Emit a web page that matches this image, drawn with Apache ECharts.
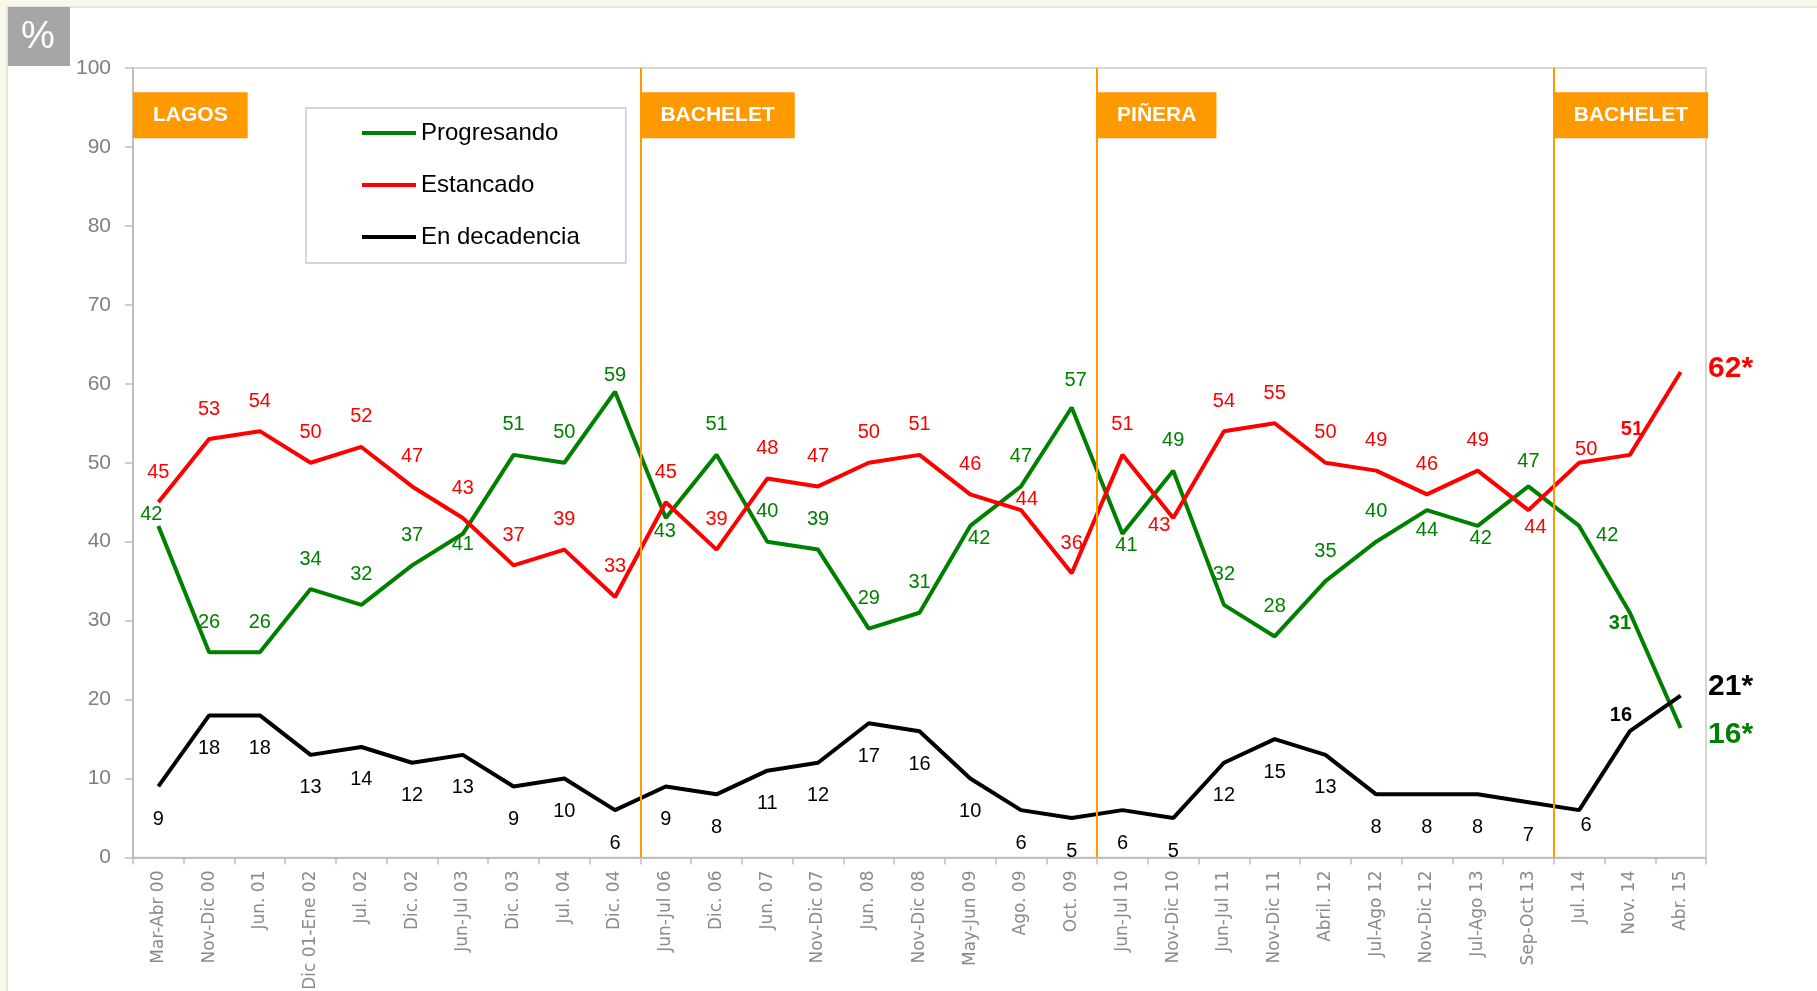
<!DOCTYPE html>
<html>
<head>
<meta charset="utf-8">
<script src="https://cdn.jsdelivr.net/npm/echarts@6/dist/echarts.min.js"></script>
<style>html,body{margin:0;padding:0;background:#faf7ea;}#chart{width:1817px;height:991px;}</style>
</head>
<body>
<div id="chart"></div>
<script>
const categories = ['Mar-Abr 00','Nov-Dic 00','Jun. 01','Dic 01-Ene 02','Jul. 02','Dic. 02','Jun-Jul 03','Dic. 03','Jul. 04','Dic. 04','Jun-Jul 06','Dic. 06','Jun. 07','Nov-Dic 07','Jun. 08','Nov-Dic 08','May-Jun 09','Ago. 09','Oct. 09','Jun-Jul 10','Nov-Dic 10','Jun-Jul 11','Nov-Dic 11','Abril. 12','Jul-Ago 12','Nov-Dic 12','Jul-Ago 13','Sep-Oct 13','Jul. 14','Nov. 14','Abr. 15'];
const progresando = [42,26,26,34,32,37,41,51,50,59,43,51,40,39,29,31,42,47,57,41,49,32,28,35,40,44,42,47,42,31,16.4];
const estancado   = [45,53,54,50,52,47,43,37,39,33,45,39,48,47,50,51,46,44,36,51,43,54,55,50,49,46,49,44,50,51,61.5];
const decadencia  = [9,18,18,13,14,12,13,9,10,6,9,8,11,12,17,16,10,6,5,6,5,12,15,13,8,8,8,7,6,16,20.5];
const seriesNames = ['Progresando','Estancado','En decadencia'];
const periods = ['LAGOS','BACHELET','PIÑERA','BACHELET'];
const periodStarts = [0,10,19,28];
const periodBreaks = [10,19,28];
const yTicks = {min:0, max:100, step:10};

const COLORS = {green:'#008000', red:'#ff0000', black:'#000000', orange:'#ff9900'};
const FONT = 'Liberation Sans, Arial, sans-serif';

// label placement (pixel offsets from the point), style only
const greenOff = {0:[-7,-11],6:[0,11],9:[0,-16],10:[-1,13],16:[9,13],18:[4,-27],19:[4,12],25:[0,20],26:[3,13],27:[0,-25],28:[28,10],29:[-10,11],30:[50,7]};
const redOff = {17:[6,-11],20:[-14,7],27:[7,17],28:[7,-13],29:[2,-25],30:[50,-3]};
const blackOff = {28:[7,15],29:[-9,-16],30:[50,-9]};

function build(values, color, offs, defOff) {
  const last = values.length - 1;
  return values.map((v, i) => {
    const off = offs[i] || defOff;
    const lbl = {show:true, position:'inside', offset:off, color:color, fontFamily:FONT, fontSize:20};
    if (i === 29) lbl.fontWeight = 'bold';
    if (i === last) {
      lbl.fontWeight = 'bold'; lbl.fontSize = 30;
      lbl.formatter = p => Math.round(p.value) + '*';
    }
    return {value: v, label: lbl};
  });
}

function lineSeries(name, values, color, offs, defOff) {
  return {
    name: name, type:'line', data: build(values, color, offs, defOff),
    symbol:'circle', symbolSize:0.1, showSymbol:true,
    itemStyle:{color:color}, lineStyle:{color:color, width:4},
    label:{show:true}, z:3, silent:true
  };
}

const chart = echarts.init(document.getElementById('chart'), null, {renderer:'canvas'});
const option = {
  animation:false,
  backgroundColor:'#faf7ea',
  graphic:[
    {type:'rect', z:-20, shape:{x:7,y:7,width:1830,height:1000}, style:{fill:'#ffffff', stroke:'#cfcfcf', lineWidth:1}},
    {type:'rect', z:-10, shape:{x:8,y:7,width:62,height:59}, style:{fill:'#a6a6a6'}},
    {type:'text', z:-5, x:38, y:38, style:{text:'%', fill:'#ffffff', font:'38px ' + FONT, align:'center', verticalAlign:'middle'}}
  ],
  legend:{
    data: seriesNames.map(n => ({name:n, icon:'rect'})), orient:'vertical', left:306, top:108,
    padding:[13,46,14,56], itemGap:28, itemWidth:54, itemHeight:4,
    borderColor:'#c8c8c8', borderWidth:1.5, backgroundColor:'#ffffff',
    textStyle:{fontSize:24, color:'#000', fontFamily:FONT}
  },
  grid:{left:133, right:111, top:68, bottom:133.5, show:true, borderColor:'#c9c9c9', borderWidth:1.5, backgroundColor:'transparent', outerBoundsMode:'none'},
  xAxis:[
    {type:'category', data:categories, boundaryGap:true,
     axisLine:{lineStyle:{color:'#bfbfbf', width:2}},
     axisTick:{show:true, interval:0, length:7, lineStyle:{color:'#bfbfbf', width:1.5}},
     axisLabel:{interval:0, rotate:90, margin:13, color:'#8a8a8a', fontSize:17, fontFamily:'DejaVu Sans, sans-serif'},
     splitLine:{show:false}},
    {type:'value', min:0, max:categories.length, show:false, position:'bottom'}
  ],
  yAxis:{type:'value', min:yTicks.min, max:yTicks.max, interval:yTicks.step,
    axisLine:{show:true, lineStyle:{color:'#bfbfbf', width:2}},
    axisTick:{show:true, length:8, lineStyle:{color:'#bfbfbf', width:1.5}},
    axisLabel:{color:'#7f7f7f', fontSize:21, fontFamily:FONT, margin:22},
    splitLine:{show:false}},
  series:[
    {name:'periodos', type:'line', xAxisIndex:1, data:[], silent:true, z:1,
     markLine:{silent:true, symbol:['none','none'], label:{show:false},
       lineStyle:{color:COLORS.orange, width:2, type:'solid'},
       data: periodBreaks.map(b => ({xAxis:b}))},
     markPoint:{silent:true, symbolSize:0,
       label:{show:true, position:'inside', align:'left', verticalAlign:'middle', formatter:'{b}',
         backgroundColor:COLORS.orange, color:'#ffffff', fontWeight:'bold', fontSize:21, lineHeight:21,
         fontFamily:FONT, padding:[12.5,20]},
       data: periods.map((p, i) => ({name:p, coord:[periodStarts[i], 94]}))}
    },
    lineSeries('Progresando', progresando, COLORS.green, greenOff, [0,-30]),
    lineSeries('Estancado', estancado, COLORS.red, redOff, [0,-30]),
    lineSeries('En decadencia', decadencia, COLORS.black, blackOff, [0,33])
  ]
};
chart.setOption(option);
</script>
</body>
</html>
